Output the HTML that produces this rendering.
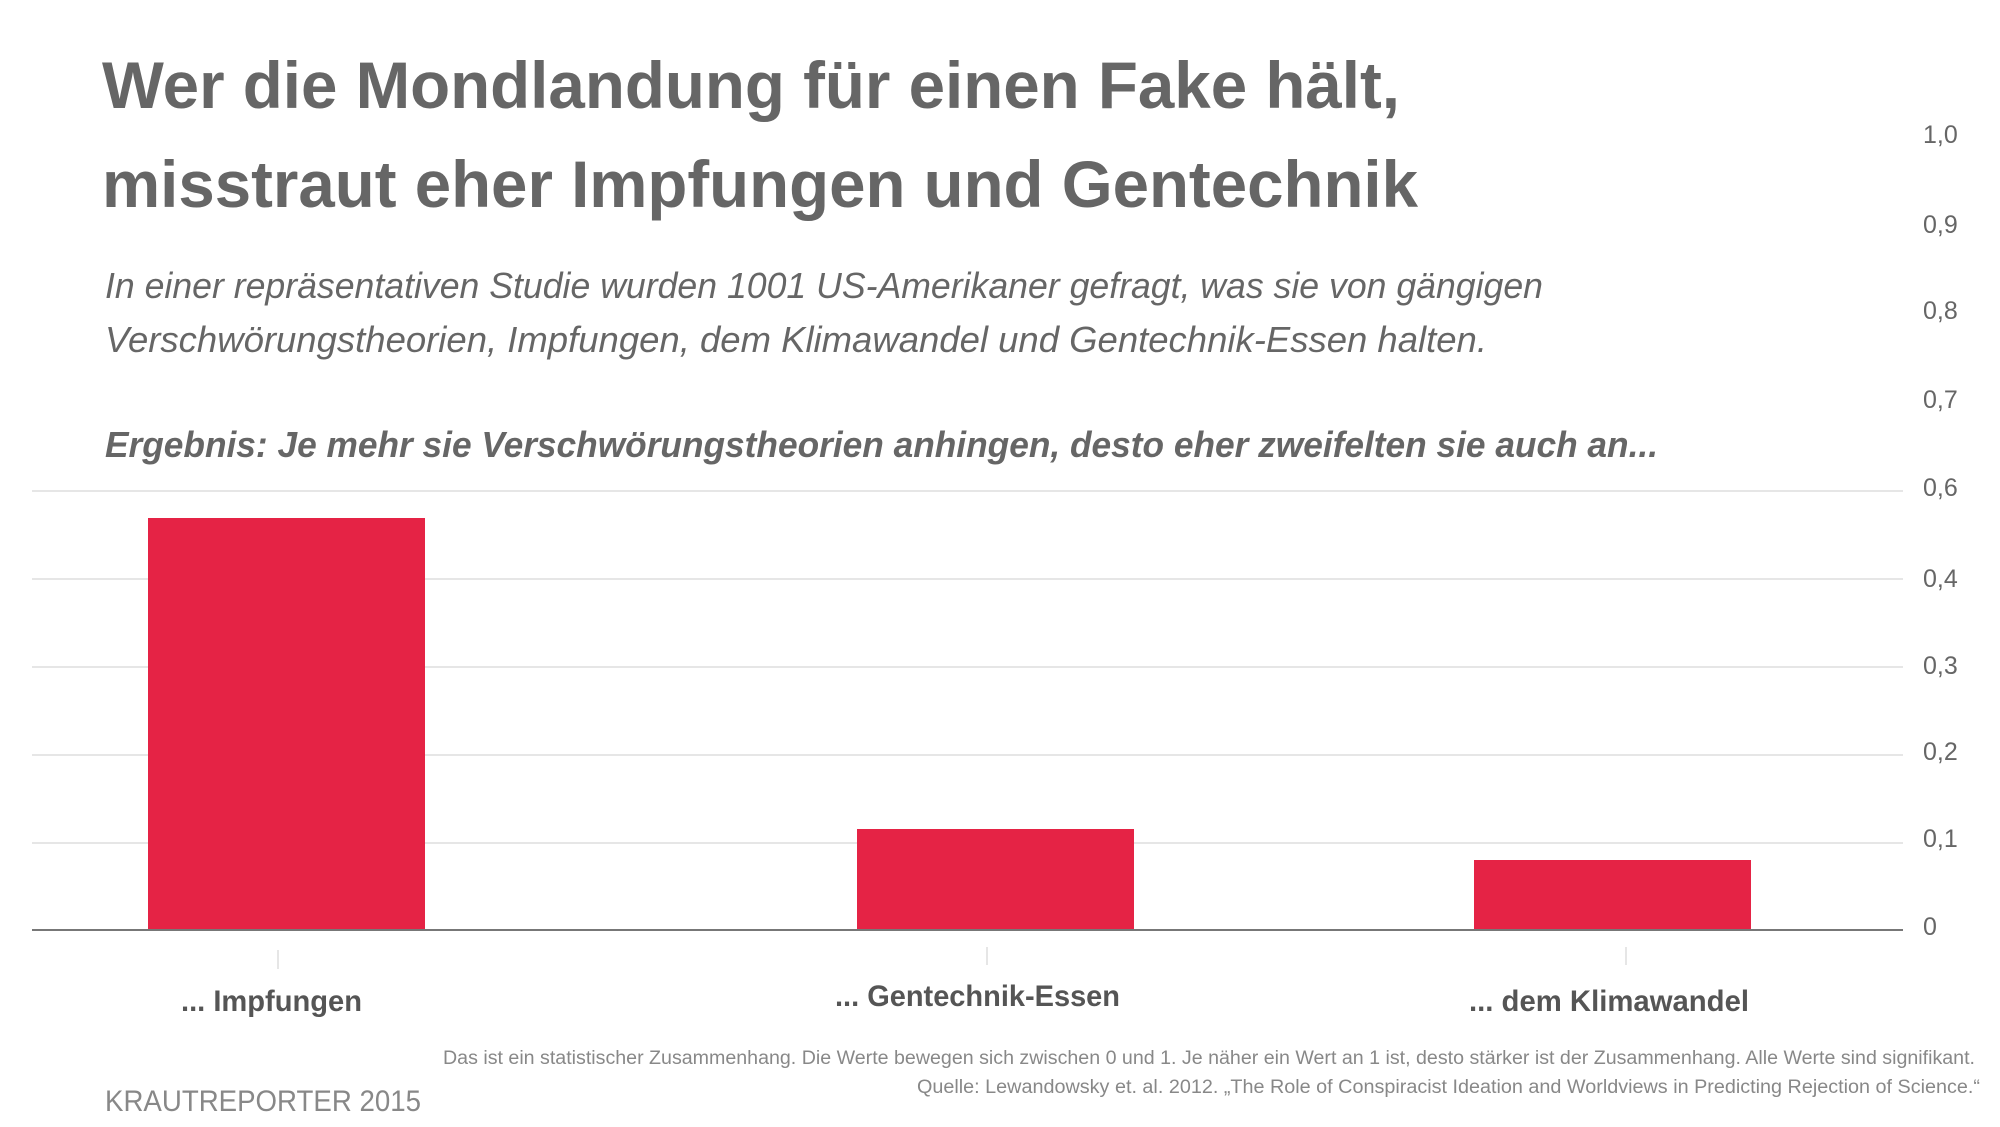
<!DOCTYPE html>
<html><head><meta charset="utf-8"><style>
html,body{margin:0;padding:0;background:#fff}
svg{display:block}
text{font-family:"Liberation Sans",sans-serif}
</style></head><body>
<svg width="2000" height="1127" viewBox="0 0 2000 1127" xmlns="http://www.w3.org/2000/svg">
<rect width="2000" height="1127" fill="#fff"/>
<g fill="#666" font-weight="bold" font-size="66">
<text x="102" y="108" textLength="1298" lengthAdjust="spacingAndGlyphs">Wer die Mondlandung für einen Fake hält,</text>
<text x="102" y="207" textLength="1316" lengthAdjust="spacingAndGlyphs">misstraut eher Impfungen und Gentechnik</text>
</g>
<g fill="#666" font-style="italic" font-size="36">
<text x="105" y="298" textLength="1438" lengthAdjust="spacingAndGlyphs">In einer repräsentativen Studie wurden 1001 US-Amerikaner gefragt, was sie von gängigen</text>
<text x="105" y="352" textLength="1382" lengthAdjust="spacingAndGlyphs">Verschwörungstheorien, Impfungen, dem Klimawandel und Gentechnik-Essen halten.</text>
<text x="105" y="457" font-weight="bold" textLength="1553" lengthAdjust="spacingAndGlyphs">Ergebnis: Je mehr sie Verschwörungstheorien anhingen, desto eher zweifelten sie auch an...</text>
</g>
<g stroke="#e6e6e6" stroke-width="2">
<line x1="32" x2="1903" y1="491" y2="491"/>
<line x1="32" x2="1903" y1="579" y2="579"/>
<line x1="32" x2="1903" y1="667" y2="667"/>
<line x1="32" x2="1903" y1="755" y2="755"/>
<line x1="32" x2="1903" y1="843" y2="843"/>
</g>
<g fill="#e52345">
<rect x="148" y="518" width="277" height="412"/>
<rect x="857" y="829" width="277" height="101"/>
<rect x="1474" y="860" width="277" height="70"/>
</g>
<line x1="32" x2="1903" y1="930" y2="930" stroke="#777" stroke-width="2"/>
<g stroke="#ddd" stroke-width="1.5">
<line x1="278" x2="278" y1="950" y2="969"/>
<line x1="987" x2="987" y1="947" y2="965"/>
<line x1="1626" x2="1626" y1="947" y2="965"/>
</g>
<g fill="#666" font-size="25">
<text x="1923" y="143">1,0</text>
<text x="1923" y="233">0,9</text>
<text x="1923" y="319">0,8</text>
<text x="1923" y="408">0,7</text>
<text x="1923" y="496">0,6</text>
<text x="1923" y="587">0,4</text>
<text x="1923" y="674">0,3</text>
<text x="1923" y="760">0,2</text>
<text x="1923" y="847">0,1</text>
<text x="1923" y="935">0</text>
</g>
<g fill="#555" font-weight="bold" font-size="30">
<text x="181" y="1011" textLength="181" lengthAdjust="spacingAndGlyphs">... Impfungen</text>
<text x="835" y="1006" textLength="285" lengthAdjust="spacingAndGlyphs">... Gentechnik-Essen</text>
<text x="1469" y="1011" textLength="280" lengthAdjust="spacingAndGlyphs">... dem Klimawandel</text>
</g>
<g fill="#888" font-size="19">
<text x="443" y="1064" textLength="1532" lengthAdjust="spacingAndGlyphs">Das ist ein statistischer Zusammenhang. Die Werte bewegen sich zwischen 0 und 1. Je näher ein Wert an 1 ist, desto stärker ist der Zusammenhang. Alle Werte sind signifikant.</text>
<text x="917" y="1093" textLength="1063" lengthAdjust="spacingAndGlyphs">Quelle: Lewandowsky et. al. 2012.  „The Role of Conspiracist Ideation and Worldviews in Predicting Rejection of Science.“</text>
</g>
<text x="105" y="1111" fill="#888" font-size="30" textLength="316" lengthAdjust="spacingAndGlyphs">KRAUTREPORTER 2015</text>
</svg>
</body></html>
